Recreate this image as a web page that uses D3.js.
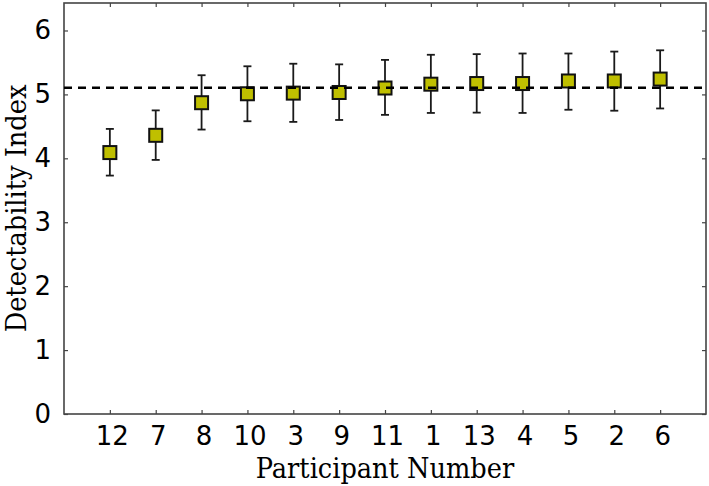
<html> <head>
<script src="https://d3js.org/d3.v7.min.js"></script>
<style>
  body { margin: 0; background: #fff; }
  .title { font-family: 'DejaVu Serif Condensed', 'DejaVu Serif'; font-stretch: condensed; font-size: 28.5px; }
</style>
</head>
<body>
  <div id="chart"></div>
<script>

// data
const participants = ['12', '7', '8', '10', '3', '9', '11', '1', '13', '4', '5', '2', '6'];
const means = [4.09, 4.36, 4.87, 5.01, 5.02, 5.03, 5.10, 5.16, 5.17, 5.17, 5.21, 5.21, 5.24];
const lower = [3.73, 3.975, 4.45, 4.58, 4.57, 4.60, 4.68, 4.71, 4.715, 4.71, 4.76, 4.745, 4.78];
const upper = [4.46, 4.75, 5.30, 5.44, 5.48, 5.47, 5.54, 5.62, 5.63, 5.64, 5.64, 5.67, 5.69];
const refLine = 5.105;
const yTicks = [0, 1, 2, 3, 4, 5, 6];

// constants
const canvas = [709, 486];
const margin = {top: 3, right: 3, bottom: 72, left: 64};
const width = canvas[0] - margin.left - margin.right;
const height = canvas[1] - margin.top - margin.bottom;
const frameColor = '#444';
const tickLen = 4;

const svg = d3.select('#chart').append('svg')
  .attr('width', canvas[0])
  .attr('height', canvas[1])
  .append('g')
  .attr('transform', `translate(${margin.left}, ${margin.top})`);

const scX = d3.scaleLinear().domain([0, participants.length + 1]).range([0, width]);
const scY = d3.scaleLinear().domain([0, 6.43]).range([height, 0]);
const xPos = i => scX(i + 1);

// axes: ticks point inward on all four sides
const styleAxis = (g, showText) => {
  g.select('.domain').remove();
  g.selectAll('.tick line').attr('stroke', frameColor).attr('stroke-width', 1.2);
  if (!showText) g.selectAll('.tick text').remove();
};

svg.append('g')
  .attr('transform', `translate(0, ${height})`)
  .call(d3.axisBottom(scX).tickValues(participants.map((p, i) => i + 1))
    .tickFormat((d, i) => participants[i]).tickSizeInner(-tickLen).tickPadding(13))
  .call(g => styleAxis(g, true))
  .selectAll('.tick text')
  .attr('dx', 2)
  .style('font-family', 'DejaVu Sans')
  .style('font-size', '26px')
  .attr('fill', '#000');

svg.append('g')
  .call(d3.axisTop(scX).tickValues(participants.map((p, i) => i + 1)).tickSizeInner(-tickLen))
  .call(g => styleAxis(g, false));

svg.append('g')
  .call(d3.axisLeft(scY).tickValues(yTicks).tickFormat(d3.format('d'))
    .tickSizeInner(-tickLen).tickPadding(13))
  .call(g => styleAxis(g, true))
  .selectAll('.tick text')
  .style('font-family', 'DejaVu Sans')
  .style('font-size', '26px')
  .attr('fill', '#000');

svg.append('g')
  .attr('transform', `translate(${width}, 0)`)
  .call(d3.axisRight(scY).tickValues(yTicks).tickSizeInner(-tickLen))
  .call(g => styleAxis(g, false));

// frame
svg.append('rect')
  .attr('x', 0).attr('y', 0)
  .attr('width', width).attr('height', height)
  .attr('fill', 'none')
  .attr('stroke', frameColor)
  .attr('stroke-width', 1.6);

// error bars
const bars = svg.append('g').attr('stroke', '#1a1a1a').attr('stroke-width', 1.8);
participants.forEach((p, i) => {
  bars.append('line')
    .attr('x1', xPos(i)).attr('x2', xPos(i))
    .attr('y1', scY(lower[i])).attr('y2', scY(upper[i]));
  [lower[i], upper[i]].forEach(v => {
    bars.append('line')
      .attr('x1', xPos(i) - 4).attr('x2', xPos(i) + 4)
      .attr('y1', scY(v)).attr('y2', scY(v));
  });
});

// square markers
const box = 13;
svg.append('g').selectAll('rect')
  .data(means)
  .join('rect')
  .attr('x', (d, i) => xPos(i) - box / 2)
  .attr('y', d => scY(d) - box / 2)
  .attr('width', box)
  .attr('height', box)
  .attr('fill', '#bfbf00')
  .attr('stroke', '#111')
  .attr('stroke-width', 2);

// reference line, drawn over the markers
svg.append('line')
  .attr('x1', 0).attr('x2', width)
  .attr('y1', scY(refLine)).attr('y2', scY(refLine))
  .attr('stroke', '#000')
  .attr('stroke-width', 2.5)
  .attr('stroke-dasharray', '8,6');

// axis titles
svg.append('text')
  .attr('class', 'title')
  .attr('x', width / 2)
  .attr('y', height + 64)
  .attr('text-anchor', 'middle')
  .text('Participant Number');

svg.append('text')
  .attr('class', 'title')
  .attr('transform', `translate(${-38}, ${height / 2}) rotate(-90)`)
  .attr('text-anchor', 'middle')
  .text('Detectability Index');

</script> </body></html>
